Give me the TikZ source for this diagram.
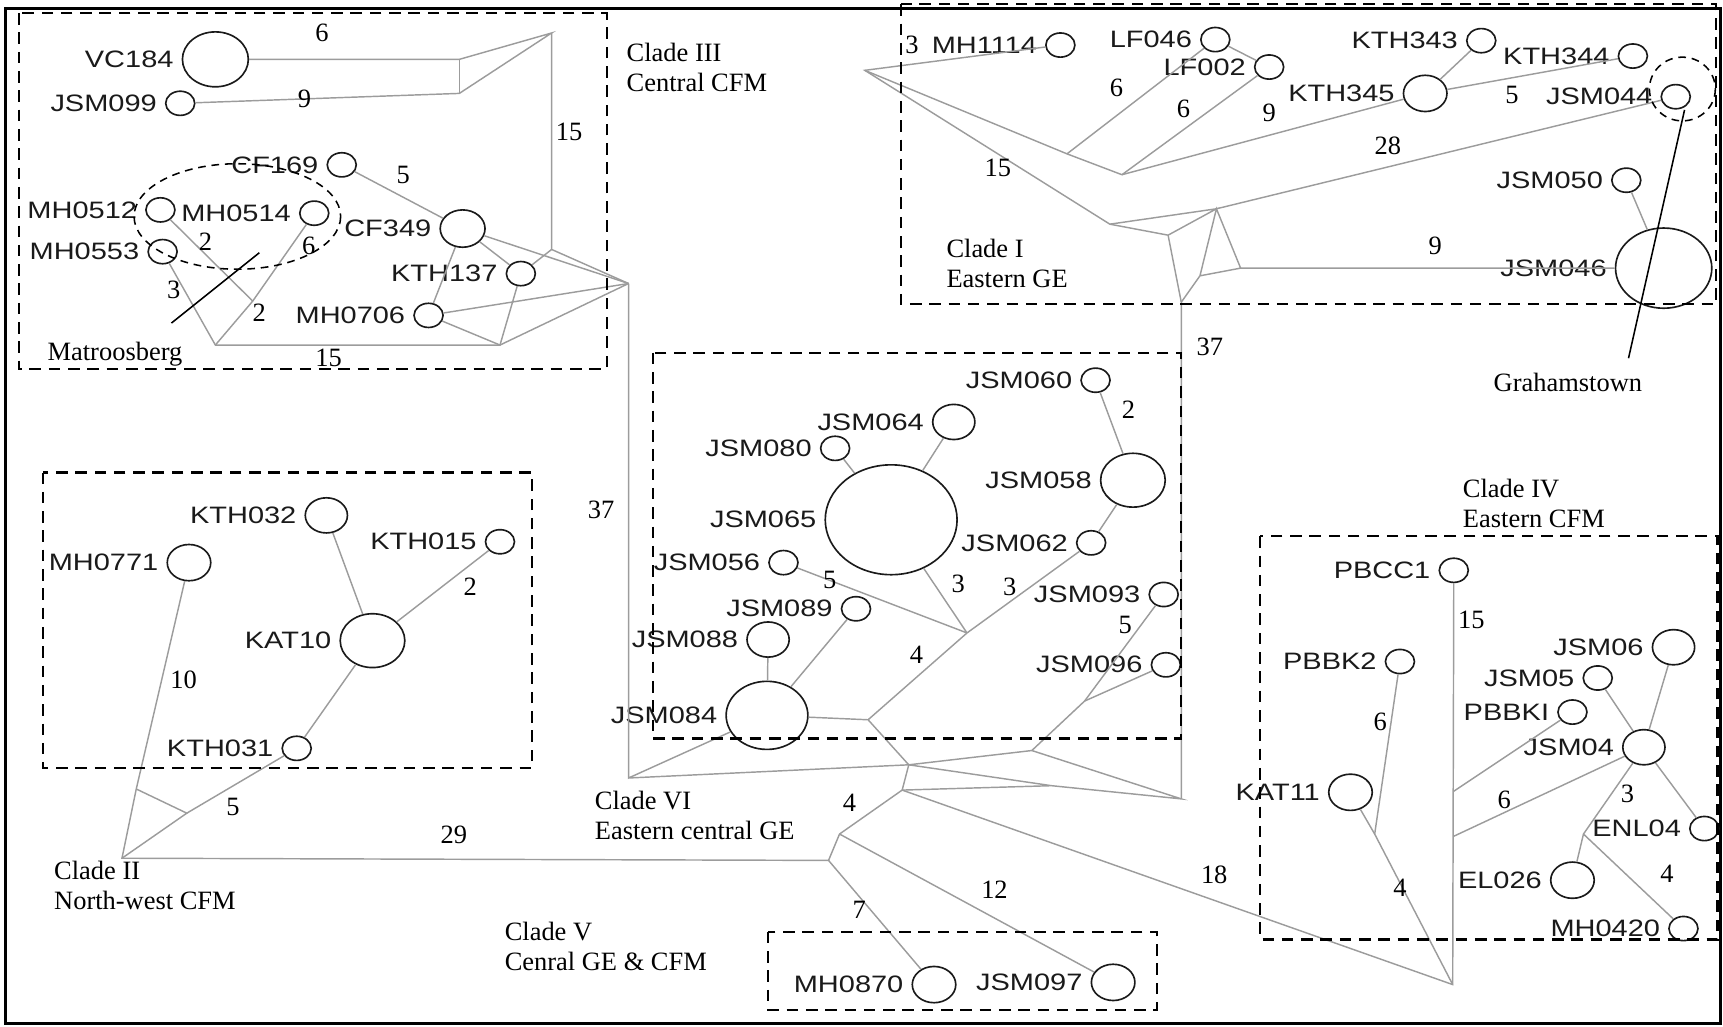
\documentclass[tikz,border=0pt]{standalone}
\usepackage{fontspec}
\setmainfont{Liberation Serif}
\newfontfamily\hapfont{Liberation Sans}[FakeStretch=1.22]
\usetikzlibrary{shapes.geometric}
\definecolor{LinkGrey}{HTML}{9C9C9C}
\definecolor{InkBlack}{HTML}{1A1A1A}

\begin{document}
\begin{tikzpicture}[x=0.02cm, y=-0.02cm, label distance=4pt,
  hap/.style={ellipse, draw=InkBlack, line width=0.85pt, inner sep=0pt,
    minimum height=#1*0.2mm, minimum width=#1*0.24mm},
  hap/.default=22,
  hlab/.style={font=\hapfont\fontsize{12.3}{13}\selectfont, text=InkBlack, inner sep=0pt},
  link/.style={LinkGrey, line width=0.75pt},
  num/.style={font=\fontsize{13.7}{16}\selectfont, inner sep=0pt},
  clade/.style={font=\fontsize{13.7}{15.6}\selectfont, align=left, anchor=west, inner sep=0pt},
  cladebox/.style={line width=1.1pt, dash pattern=on 6pt off 4pt},
  ring/.style={line width=0.8pt, dash pattern=on 4pt off 3pt}]
\useasboundingbox (0,0) rectangle (1568,934);
\draw[line width=1.6pt] (5,8) rectangle (1566,931);

\node[hap=50, label={[hlab]left:VC184}] (vc184) at (196,54) {};
\node[hap, label={[hlab]left:JSM099}] (jsm099) at (164,94) {};
\node[hap, label={[hlab]left:CF169}] (cf169) at (311,150) {};
\node[hap, label={[hlab]left:MH0512}] (mh0512) at (146,191) {};
\node[hap, label={[hlab]left:MH0514}] (mh0514) at (286,194) {};
\node[hap, label={[hlab]left:MH0553}] (mh0553) at (148,229) {};
\node[hap=34, label={[hlab]left:CF349}] (cf349) at (421,208) {};
\node[hap, label={[hlab]left:KTH137}] (kth137) at (474,249) {};
\node[hap, label={[hlab]left:MH0706}] (mh0706) at (390,287) {};

\node[hap, label={[hlab]left:MH1114}] (mh1114) at (965,41) {};
\node[hap, label={[hlab]left:LF046}] (lf046) at (1106,36) {};
\node[hap, label={[hlab]left:LF002}] (lf002) at (1155,61) {};
\node[hap, label={[hlab]left:KTH343}] (kth343) at (1348,37) {};
\node[hap, label={[hlab]left:KTH344}] (kth344) at (1486,51) {};
\node[hap=33, label={[hlab]left:KTH345}] (kth345) at (1297,85) {};
\node[hap, label={[hlab]left:JSM044}] (jsm044) at (1525,88) {};
\node[hap, label={[hlab]left:JSM050}] (jsm050) at (1480,164) {};
\node[hap=73, label={[hlab]left:JSM046}] (jsm046) at (1514,244) {};

\node[hap, label={[hlab]left:JSM060}] (jsm060) at (997,346) {};
\node[hap=32, label={[hlab]left:JSM064}] (jsm064) at (868,384) {};
\node[hap, label={[hlab]left:JSM080}] (jsm080) at (760,408) {};
\node[hap=100, label={[hlab]left:JSM065}] (jsm065) at (811,473) {};
\node[hap=49, label={[hlab]left:JSM058}] (jsm058) at (1031,437) {};
\node[hap, label={[hlab]left:JSM062}] (jsm062) at (993,494) {};
\node[hap, label={[hlab]left:JSM056}] (jsm056) at (713,512) {};
\node[hap, label={[hlab]left:JSM093}] (jsm093) at (1059,541) {};
\node[hap, label={[hlab]left:JSM089}] (jsm089) at (779,554) {};
\node[hap=32, label={[hlab]left:JSM088}] (jsm088) at (699,582) {};
\node[hap, label={[hlab]left:JSM096}] (jsm096) at (1061,605) {};
\node[hap=62, label={[hlab]left:JSM084}] (jsm084) at (698,651) {};

\node[hap=32, label={[hlab]left:KTH032}] (kth032) at (297,469) {};
\node[hap=33, label={[hlab]left:MH0771}] (mh0771) at (172,512) {};
\node[hap, label={[hlab]left:KTH015}] (kth015) at (455,493) {};
\node[hap=49, label={[hlab]left:KAT10}] (kat10) at (339,583) {};
\node[hap, label={[hlab]left:KTH031}] (kth031) at (270,681) {};

\node[hap, label={[hlab]left:PBCC1}] (pbcc1) at (1323,519) {};
\node[hap, label={[hlab]left:PBBK2}] (pbbk2) at (1274,602) {};
\node[hap=32, label={[hlab]left:JSM06}] (jsm06) at (1523,589) {};
\node[hap, label={[hlab]left:JSM05}] (jsm05) at (1454,617) {};
\node[hap, label={[hlab]left:PBBKI}] (pbbki) at (1431,648) {};
\node[hap=32, label={[hlab]left:JSM04}] (jsm04) at (1496,680) {};
\node[hap=33, label={[hlab]left:KAT11}] (kat11) at (1229,721) {};
\node[hap, label={[hlab]left:ENL04}] (enl04) at (1551,754) {};
\node[hap=33, label={[hlab]left:EL026}] (el026) at (1431,801) {};
\node[hap, label={[hlab]left:MH0420}] (mh0420) at (1532,845) {};

\node[hap=33, label={[hlab]left:MH0870}] (mh0870) at (850,896) {};
\node[hap=33, label={[hlab]left:JSM097}] (jsm097) at (1013,894) {};

\coordinate (v1) at (502,30);
\coordinate (v2) at (502,227);
\coordinate (v3) at (418,54);
\coordinate (v4) at (418,85);
\coordinate (j1) at (572,258);
\coordinate (b1) at (196,314);
\coordinate (b2) at (230,274);
\coordinate (b3) at (455,314);
\coordinate (c1) at (572,708);
\coordinate (j5) at (790,655);
\coordinate (j6) at (827,696);
\coordinate (j7) at (880,576);
\coordinate (j8) at (821,719);
\coordinate (j9) at (939,683);
\coordinate (jk) at (957,715);
\coordinate (j10) at (1075,727);
\coordinate (q) at (987,638);
\coordinate (t1) at (1075,275);
\coordinate (t2) at (1063,214);
\coordinate (t3) at (1092,251);
\coordinate (t4) at (1107,190);
\coordinate (t5) at (1129,244);
\coordinate (p1) at (1010,204);
\coordinate (m1) at (787,64);
\coordinate (l1) at (971,140);
\coordinate (l2) at (1021,159);
\coordinate (j11) at (764,759);
\coordinate (j13) at (754,783);
\coordinate (j12) at (1322,896);
\coordinate (c2) at (111,781);
\coordinate (w1) at (124,718);
\coordinate (w2) at (170,740);
\coordinate (g1) at (1323,720);
\coordinate (g2) at (1323,761);
\coordinate (e1) at (1441,759);
\coordinate (k1) at (1251,759);

\draw[link] (vc184) -- (v3) -- (v1) -- (v4) -- (jsm099);
\draw[link] (v3) -- (v4);
\draw[link] (v1) -- (v2) -- (j1);
\draw[link] (v2) -- (kth137) -- (b3) -- (b1) -- (mh0553);
\draw[link] (cf169) -- (cf349) -- (j1);
\draw[link] (cf349) -- (kth137);
\draw[link] (cf349) -- (mh0706) -- (j1);
\draw[link] (mh0706) -- (b3) -- (j1);
\draw[link] (b1) -- (b2) -- (mh0514);
\draw[link] (b2) -- (mh0512);
\draw[link] (j1) -- (c1) -- (jsm084) -- (j5) -- (j6) -- (c1);
\draw[link] (j5) -- (j7) -- (jsm062) -- (jsm058) -- (jsm060);
\draw[link] (j7) -- (jsm056);
\draw[link] (j7) -- (jsm065) -- (jsm064);
\draw[link] (jsm065) -- (jsm080);
\draw[link] (jsm084) -- (jsm088);
\draw[link] (jsm084) -- (jsm089);
\draw[link] (j6) -- (j9) -- (j10) -- (jk) -- (j6) -- (j8) -- (jk);
\draw[link] (j9) -- (q) -- (jsm093);
\draw[link] (q) -- (jsm096);
\draw[link] (j10) -- (t1) -- (t2) -- (p1) -- (m1) -- (mh1114);
\draw[link] (t1) -- (t3) -- (t4) -- (t5) -- (t3);
\draw[link] (t2) -- (t4) -- (p1);
\draw[link] (t4) -- (jsm044);
\draw[link] (t5) -- (jsm046) -- (jsm050);
\draw[link] (m1) -- (l1) -- (l2) -- (kth345) -- (kth343);
\draw[link] (kth345) -- (kth344);
\draw[link] (l1) -- (lf046) -- (lf002) -- (l2);
\draw[link] (j8) -- (j11) -- (j13) -- (c2) -- (w1) -- (mh0771);
\draw[link] (w1) -- (w2) -- (c2);
\draw[link] (w2) -- (kth031) -- (kat10) -- (kth032);
\draw[link] (kat10) -- (kth015);
\draw[link] (j11) -- (jsm097);
\draw[link] (j13) -- (mh0870);
\draw[link] (j8) -- (j12) -- (pbcc1);
\draw[link] (g1) -- (pbbki);
\draw[link] (g2) -- (jsm04) -- (jsm06);
\draw[link] (jsm04) -- (jsm05);
\draw[link] (jsm04) -- (enl04);
\draw[link] (jsm04) -- (e1) -- (el026);
\draw[link] (e1) -- (mh0420);
\draw[link] (j12) -- (k1) -- (kat11);
\draw[link] (k1) -- (pbbk2);

\draw[cladebox] (17,12) rectangle (552,336);
\draw[cladebox] (820,4) rectangle (1562,277);
\draw[cladebox] (594,321) rectangle (1075,672);
\draw[cladebox] (39,430) rectangle (484,699);
\draw[cladebox] (1147,488) rectangle (1563,855);
\draw[cladebox] (699,848) rectangle (1053,919);
\draw[ring] (216,197) ellipse [x radius=94, y radius=48];
\draw[ring] (1531,81) ellipse [x radius=30, y radius=29];

\coordinate (mp1) at (236,230);
\coordinate (mp2) at (156,294);
\coordinate (gp1) at (1533,100);
\coordinate (gp2) at (1482,326);
\draw[line width=0.8pt] (mp1) -- (mp2);
\draw[line width=0.8pt] (gp1) -- (gp2);

\node[clade] (cl3) at (570,61) {Clade III\\Central CFM};
\node[clade] (cl1) at (861,240) {Clade I\\Eastern GE};
\node[clade] (cl4) at (1331,458) {Clade IV\\Eastern CFM};
\node[clade] (cl6) at (541,742) {Clade VI\\Eastern central GE};
\node[clade] (cl2) at (49,806) {Clade II\\North-west CFM};
\node[clade] (cl5) at (459,861) {Clade V\\Cenral GE \& CFM};
\node[clade] (matro) at (43,322) {Matroosberg};
\node[clade] (graham) at (1359,348) {Grahamstown};

\node[num] (s1) at (293,30) {6};
\node[num] (s2) at (277,90) {9};
\node[num] (s3) at (518,120) {15};
\node[num] (s4) at (367,159) {5};
\node[num] (s5) at (187,220) {2};
\node[num] (s6) at (281,224) {6};
\node[num] (s7) at (158,264) {3};
\node[num] (s8) at (236,285) {2};
\node[num] (s9) at (299,326) {15};
\node[num] (s10) at (830,41) {3};
\node[num] (s11) at (1016,80) {6};
\node[num] (s12) at (1077,99) {6};
\node[num] (s13) at (1155,103) {9};
\node[num] (s14) at (1376,86) {5};
\node[num] (s15) at (1263,133) {28};
\node[num] (s16) at (908,153) {15};
\node[num] (s17) at (1306,224) {9};
\node[num] (s18) at (1101,316) {37};
\node[num] (s19) at (547,464) {37};
\node[num] (s20) at (1027,373) {2};
\node[num] (s21) at (755,528) {5};
\node[num] (s22) at (872,531) {3};
\node[num] (s23) at (919,534) {3};
\node[num] (s24) at (1024,569) {5};
\node[num] (s25) at (834,596) {4};
\node[num] (s26) at (428,534) {2};
\node[num] (s27) at (167,619) {10};
\node[num] (s28) at (212,734) {5};
\node[num] (s29) at (413,760) {29};
\node[num] (s30) at (773,731) {4};
\node[num] (s31) at (782,828) {7};
\node[num] (s32) at (905,810) {12};
\node[num] (s33) at (1105,796) {18};
\node[num] (s34) at (1339,564) {15};
\node[num] (s35) at (1256,657) {6};
\node[num] (s36) at (1369,728) {6};
\node[num] (s37) at (1481,722) {3};
\node[num] (s38) at (1517,795) {4};
\node[num] (s39) at (1274,808) {4};
\end{tikzpicture}
\end{document}
